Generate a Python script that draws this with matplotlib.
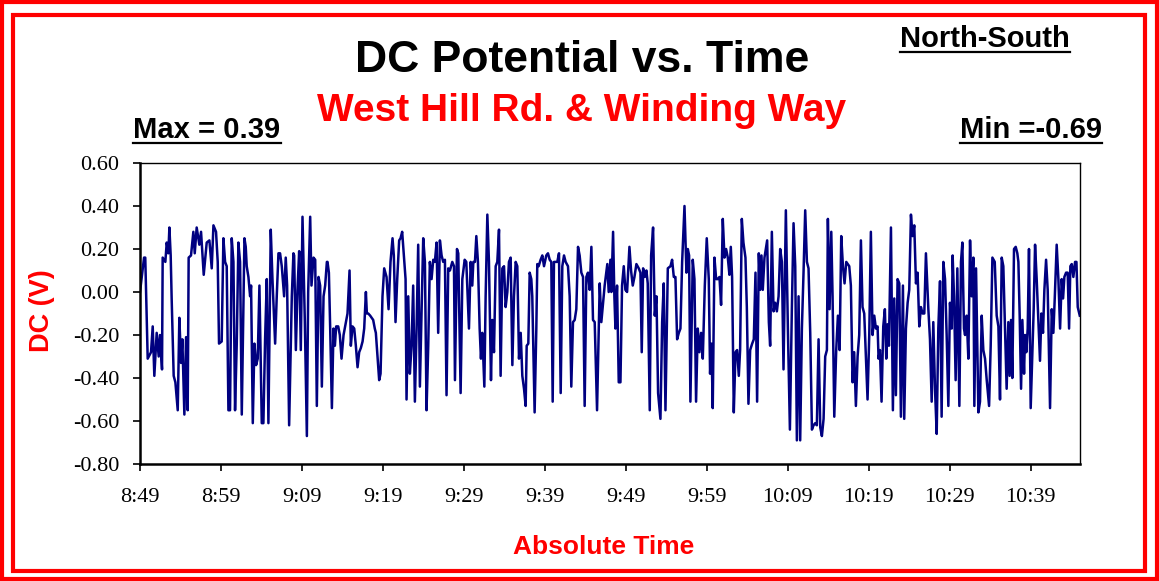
import matplotlib
matplotlib.use("Agg")
from matplotlib import pyplot as plt
from matplotlib.patches import Rectangle
from matplotlib.lines import Line2D

# minutes after 8:49 and DC potential (V)
minutes = [
    0.0, 0.5, 0.65, 0.95, 1.36, 1.57, 1.77, 2.06, 2.31, 2.47, 2.72, 2.80, 3.13, 3.30, 3.5, 3.63,
    3.79, 3.91, 4.16, 4.37, 4.66, 4.86, 5.07, 5.23, 5.48, 5.69, 5.89, 6.01, 6.30, 6.59, 6.76, 7.0,
    7.33, 7.54, 7.87, 8.24, 8.57, 8.86, 9.07,
    9.39, 9.60, 9.76, 10.09, 10.30, 10.51, 10.71, 10.92, 11.12, 11.33, 11.54, 11.74, 11.95, 12.15,
    12.36, 12.57, 12.90, 13.06, 13.18, 13.39, 13.6, 13.72, 13.93, 14.13, 14.34, 14.54, 14.75,
    15.04, 15.24, 15.45, 15.66, 15.86, 16.15, 16.36, 16.69, 16.89, 17.1, 17.3, 17.51, 17.8, 18.0,
    18.17, 18.42, 18.75, 18.95,
    19.04, 19.25, 19.45, 19.66, 19.86, 20.07, 20.36, 20.61, 20.77, 21.02, 21.18, 21.43, 21.64,
    21.84, 22.05, 22.25, 22.46, 22.67, 22.87, 23.08, 23.16, 23.33, 23.49, 23.7, 23.9, 24.07,
    24.23, 24.48, 24.68, 24.89, 25.14, 25.43, 25.63, 25.88, 26.04, 26.25, 26.46, 26.66, 26.87,
    27.07, 27.28, 27.49, 27.69, 27.9, 28.02, 28.19, 28.43,
    28.8, 29.0, 29.13, 29.3, 29.54, 29.71, 29.95, 30.16, 30.45, 30.7, 30.94, 31.19, 31.35, 31.56,
    31.77, 32.01, 32.18, 32.38, 32.59, 32.8, 32.92, 33.13, 33.33, 33.54, 33.74, 33.95, 34.16,
    34.36, 34.57, 34.77, 34.98, 35.19, 35.39, 35.6, 35.8, 36.01, 36.22, 36.42, 36.63, 36.83,
    37.04, 37.25, 37.45, 37.66, 37.86, 38.07, 38.28,
    38.57, 38.78, 38.9, 39.15, 39.31, 39.6, 39.81, 40.1, 40.3, 40.63, 40.84, 41.04, 41.17, 41.37,
    41.54, 41.74, 41.95, 42.11, 42.28, 42.53, 42.69, 42.9, 43.1, 43.35, 43.51, 43.72, 43.93,
    44.13, 44.34, 44.54, 44.75, 44.96, 45.16, 45.37, 45.57, 45.78, 45.99, 46.19, 46.4, 46.6,
    46.81, 47.02, 47.22, 47.43, 47.63, 47.76, 47.96, 48.13,
    48.33, 48.45, 48.74, 48.95, 49.07, 49.24, 49.48, 49.69, 49.9, 50.18, 50.39, 50.6, 50.8,
    50.97, 51.13, 51.34, 51.54, 51.75, 51.96, 52.16, 52.37, 52.57, 52.86, 53.07, 53.27, 53.48,
    53.69, 53.89, 54.1, 54.3, 54.51, 54.72, 54.92, 55.13, 55.33, 55.54, 55.75, 55.95, 56.16,
    56.45, 56.78, 56.98, 57.19, 57.39, 57.72, 57.89, 58.1,
    58.22, 58.43, 58.59, 58.72, 58.92, 59.13, 59.34, 59.54, 59.75, 59.95, 60.16, 60.45, 60.65,
    60.86, 61.07, 61.31, 61.6, 61.81, 61.97, 62.14, 62.34, 62.55, 62.71, 62.96, 63.13, 63.37,
    63.58, 63.79, 63.99, 64.28, 64.49, 64.69, 64.9, 65.19, 65.52, 65.72, 65.93, 66.13, 66.34,
    66.55, 66.75, 66.96, 67.25, 67.49, 67.66, 67.82,
    67.98, 68.27, 68.48, 68.68, 68.89, 69.1, 69.3, 69.51, 69.76, 70.0, 70.25, 70.41, 70.58,
    70.74, 70.95, 71.16, 71.36, 71.57, 71.77, 71.98, 72.19, 72.39, 72.6, 72.8, 72.97, 73.13,
    73.34, 73.55, 73.75, 73.96, 74.12, 74.33, 74.53, 74.78, 74.95, 75.15, 75.36, 75.61, 75.81,
    76.02, 76.22, 76.43, 76.6, 76.76, 76.92, 77.13, 77.46, 77.67, 77.83,
    78.04, 78.25, 78.45, 78.66, 78.87, 79.07, 79.28, 79.48, 79.77, 80.02, 80.27, 80.51, 80.72,
    80.93, 81.13, 81.34, 81.54, 81.75, 81.96, 82.16, 82.37, 82.57, 82.78, 82.99, 83.19, 83.4,
    83.6, 83.81, 84.02, 84.22, 84.43, 84.63, 84.84, 84.96, 85.17, 85.38, 85.54, 85.75, 85.99,
    86.2, 86.41, 86.61, 86.82, 87.02, 87.23,
    87.6, 87.8, 88.01, 88.21, 88.42, 88.63, 88.83, 89.04, 89.24, 89.45, 89.66, 89.86, 90.07,
    90.27, 90.48, 90.69, 90.89, 91.1, 91.22, 91.39, 91.59, 91.8, 92.0, 92.17, 92.33, 92.5,
    92.75, 92.99, 93.16, 93.36, 93.57, 93.78, 93.98, 94.23, 94.39, 94.6, 94.81, 95.01, 95.22,
    95.42, 95.63, 95.84, 96.04, 96.25, 96.45, 96.66, 96.87, 97.07,
    97.37, 97.57, 97.78, 97.98, 98.19, 98.4, 98.6, 98.81, 99.01, 99.22, 99.43, 99.63, 99.84,
    100.04, 100.25, 100.37, 100.54, 100.74, 100.95, 101.2, 101.4, 101.57, 101.77, 101.9, 102.1,
    102.31, 102.52, 102.72, 102.93, 103.05, 103.26, 103.55, 103.75, 103.96, 104.16, 104.37,
    104.58, 104.87, 105.07, 105.28, 105.57, 105.81, 106.02, 106.22, 106.43, 106.63,
    107.04, 107.25, 107.41, 107.58, 107.74, 107.95, 108.16, 108.36, 108.49, 108.65, 108.82,
    108.98, 109.19, 109.31, 109.47, 109.64, 109.8, 110.01, 110.22, 110.38, 110.55, 110.75,
    110.96, 111.16, 111.33, 111.53, 111.7, 111.91, 112.11, 112.4, 112.61, 112.81, 112.98,
    113.22, 113.43, 113.64, 113.84, 114.01, 114.17, 114.38, 114.58, 114.75, 114.91, 115.08,
    115.28, 115.49, 115.66, 115.82, 116.07,
]

dc = [
    0.00, 0.16, 0.16, -0.31, -0.28, -0.16, -0.39, -0.19, -0.30, -0.20, -0.36, 0.16, 0.14, 0.23, 0.18, 0.30,
    0.17, -0.03, -0.39, -0.42, -0.55, -0.12, -0.33, -0.22, -0.57, -0.21, -0.55, 0.16, 0.17, 0.28, 0.18, 0.30,
    0.22, 0.28, 0.08, 0.23, 0.24, 0.11, 0.31,
    0.28, 0.14, -0.24, -0.23, 0.25, 0.14, 0.12, -0.55, -0.55, 0.25, 0.14, -0.55, -0.24, 0.23,
    0.14, -0.57, 0.25, 0.21, 0.12, 0.07, -0.02, 0.03, -0.61, -0.24, -0.34, -0.31, 0.03,
    -0.61, -0.61, -0.22, 0.06, -0.61, 0.29, 0.06, -0.24, -0.02, 0.18, 0.18, 0.12, -0.02, 0.16,
    0.03, -0.62, -0.02, 0.18,
    0.17, -0.27, 0.01, 0.19, -0.27, 0.35, -0.14, -0.67, 0.00, 0.35, 0.03, 0.16, 0.15,
    -0.53, 0.07, 0.03, -0.44, -0.02, 0.03, 0.14, 0.14, 0.09, -0.17, -0.54, -0.17, -0.25,
    -0.16, -0.16, -0.20, -0.31, -0.20, -0.14, -0.10, 0.10, -0.25, -0.16, -0.17, -0.25, -0.35,
    -0.28, -0.26, -0.23, -0.17, 0.00, -0.10, -0.10, -0.11,
    -0.13, -0.17, -0.19, -0.28, -0.41, -0.38, -0.02, 0.11, 0.07, -0.08, 0.14, 0.25, 0.17, -0.14,
    0.06, 0.24, 0.25, 0.28, 0.17, 0.06, -0.50, -0.02, -0.38, -0.25, 0.03, -0.51, -0.17,
    0.22, -0.44, -0.11, 0.25, 0.14, -0.55, -0.25, 0.14, 0.06, 0.15, 0.14, 0.23, -0.19,
    0.24, 0.17, 0.14, 0.15, -0.48, 0.11, 0.10,
    0.14, 0.12, -0.41, 0.20, 0.18, -0.47, 0.06, 0.15, 0.14, -0.17, 0.14, 0.03, 0.14, 0.14,
    0.26, 0.14, -0.17, -0.31, -0.19, -0.44, -0.02, 0.36, 0.14, -0.41, -0.13, -0.28, 0.12,
    0.14, 0.29, -0.39, 0.11, 0.12, -0.07, 0.00, 0.14, 0.16, -0.34, -0.02, 0.14, 0.12,
    -0.31, -0.19, -0.39, -0.45, -0.53, -0.25, -0.24, 0.09,
    0.06, -0.02, -0.56, -0.17, 0.13, 0.12, 0.15, 0.17, 0.12, 0.17, 0.18, 0.15, 0.14,
    -0.51, 0.14, 0.14, 0.14, 0.18, -0.47, 0.12, 0.17, 0.14, 0.12, -0.02, -0.44, -0.14,
    -0.13, -0.08, 0.21, 0.17, 0.09, 0.07, -0.53, 0.07, 0.09, 0.01, 0.21, -0.13, -0.14,
    -0.55, 0.04, -0.14, -0.05, 0.03, 0.13, 0.00, 0.15,
    0.00, 0.28, -0.02, -0.17, 0.03, -0.42, -0.42, 0.03, 0.12, 0.01, 0.00, 0.21, 0.10,
    0.03, 0.07, 0.13, 0.11, 0.09, -0.28, 0.11, 0.07, 0.10, 0.04, -0.55, 0.17, 0.30,
    -0.11, -0.02, -0.47, -0.59, -0.14, 0.04, -0.55, 0.11, 0.12, 0.15, 0.07, 0.07, -0.22,
    -0.19, -0.17, 0.14, 0.40, 0.09, 0.20, 0.17,
    -0.51, 0.15, 0.06, -0.51, -0.17, -0.28, -0.19, -0.31, 0.03, 0.25, 0.06, -0.38, -0.24,
    -0.54, 0.16, 0.06, 0.06, 0.07, -0.06, 0.34, 0.16, 0.20, 0.16, 0.08, 0.21, 0.07,
    -0.56, -0.28, -0.27, -0.39, -0.27, 0.34, 0.23, 0.16, -0.07, -0.52, -0.27, -0.24, -0.22,
    0.09, -0.51, 0.18, 0.01, 0.17, 0.01, 0.16, 0.24, -0.14, -0.25,
    0.28, -0.09, -0.05, -0.09, -0.02, 0.20, 0.14, -0.36, 0.38, -0.17, -0.64, -0.08, 0.32,
    0.12, -0.69, -0.02, -0.69, -0.17, 0.10, 0.38, 0.14, 0.11, -0.19, -0.64, -0.62, -0.61,
    -0.62, -0.22, -0.63, -0.67, -0.59, -0.30, -0.27, 0.34, -0.08, 0.28, -0.02, -0.58, -0.27,
    -0.11, -0.27, 0.26, 0.12, 0.04, 0.14,
    0.12, 0.03, -0.42, -0.28, -0.53, -0.30, -0.20, 0.24, -0.07, -0.10, -0.30, -0.50, -0.20,
    0.28, -0.20, -0.11, -0.17, -0.16, -0.31, -0.27, -0.51, -0.16, -0.08, -0.31, -0.15, -0.25,
    0.30, -0.55, -0.03, -0.48, 0.06, 0.04, -0.58, 0.03, -0.59, -0.17, -0.05, 0.01, 0.36,
    0.26, 0.31, 0.04, 0.09, -0.16, -0.07, -0.10, -0.10, 0.18,
    -0.08, -0.22, -0.51, -0.14, -0.45, -0.66, -0.17, 0.05, -0.58, 0.14, 0.06, -0.20, -0.53,
    -0.05, -0.17, 0.17, -0.02, -0.41, 0.11, -0.53, 0.14, 0.23, -0.17, -0.20, -0.11,
    -0.31, 0.24, -0.02, 0.16, -0.53, 0.11, -0.56, -0.51, -0.11, -0.27, -0.31,
    -0.41, -0.53, -0.25, 0.16, 0.14, -0.11, -0.16, -0.50, 0.16, 0.12,
    -0.45, -0.14, -0.39, -0.13, -0.40, 0.20, 0.21, 0.18, 0.14, -0.11, -0.45,
    -0.13, -0.38, -0.20, -0.28, -0.17, 0.20, -0.54, -0.27, -0.08, 0.22, 0.06,
    -0.13, -0.32, -0.10, -0.19, 0.01, 0.15, 0.01, -0.54, -0.08, -0.19, -0.03,
    0.22, 0.06, -0.17, 0.06, -0.03, 0.07, 0.09, 0.09, -0.17, 0.12, 0.13,
    0.07, 0.14, 0.14, -0.07, -0.11,
]

tick_minutes = [0, 10, 20, 30, 40, 50, 60, 70, 80, 90, 100, 110]
tick_labels = ["8:49", "8:59", "9:09", "9:19", "9:29", "9:39",
               "9:49", "9:59", "10:09", "10:19", "10:29", "10:39"]
y_ticks = [0.6, 0.4, 0.2, 0.0, -0.2, -0.4, -0.6, -0.8]

W, H = 1159, 581
fig = plt.figure(figsize=(W / 100, H / 100), dpi=100)
fig.patch.set_facecolor("white")

# red double frame
fig.patches.append(Rectangle((2 / W, 2 / H), 1 - 4 / W, 1 - 4 / H, transform=fig.transFigure,
                             fill=False, edgecolor="red", linewidth=3))
fig.patches.append(Rectangle((13 / W, 10 / H), 1 - 27 / W, 1 - 25 / H, transform=fig.transFigure,
                             fill=False, edgecolor="red", linewidth=3))

ax = fig.add_axes([140 / W, 1 - 464 / H, 940 / W, 301 / H])
ax.plot(minutes, dc, color="#000080", linewidth=1.8)
ax.set_xlim(0, 116.1)
ax.set_ylim(-0.8, 0.6)
ax.set_xticks(tick_minutes)
ax.set_xticklabels(tick_labels)
ax.set_yticks(y_ticks)
ax.set_yticklabels(["%.2f" % v for v in y_ticks])
for sp in ax.spines.values():
    sp.set_color("black")
    sp.set_linewidth(1.0)
ax.spines["left"].set_linewidth(1.8)
ax.spines["bottom"].set_linewidth(1.8)
ax.tick_params(direction="out", length=5, width=1.2, labelsize=16, pad=12)
ax.tick_params(axis="y", pad=10)
for lab in ax.get_xticklabels() + ax.get_yticklabels():
    lab.set_fontfamily("Liberation Serif")

sans = "Liberation Sans"
fig.text(42 / W, 1 - 311 / H, "DC (V)", rotation=90, ha="center", va="center",
         color="red", fontsize=19.5, fontweight="bold", fontfamily=sans)
fig.text(604 / W, 1 - 547 / H, "Absolute Time", ha="center", va="center",
         color="red", fontsize=19, fontweight="bold", fontfamily=sans)

fig.text(582 / W, 1 - 60 / H, "DC Potential vs. Time", ha="center", va="center",
         fontsize=32, fontweight="bold", fontfamily=sans, color="black")
fig.text(582 / W, 1 - 111 / H, "West Hill Rd. & Winding Way", ha="center", va="center",
         fontsize=28, fontweight="bold", fontfamily=sans, color="red")
under = [
    fig.text(985 / W, 1 - 39 / H, "North-South", ha="center", va="center",
             fontsize=21, fontweight="bold", fontfamily=sans),
    fig.text(207 / W, 1 - 130 / H, "Max = 0.39", ha="center", va="center",
             fontsize=21, fontweight="bold", fontfamily=sans),
    fig.text(1031 / W, 1 - 130 / H, "Min =-0.69", ha="center", va="center",
             fontsize=21, fontweight="bold", fontfamily=sans),
]

# underline the small labels
fig.canvas.draw()
r = fig.canvas.get_renderer()
for t in under:
    bb = t.get_window_extent(r)
    yl = bb.y0 + 1
    fig.add_artist(Line2D([bb.x0 / W, bb.x1 / W], [yl / H, yl / H],
                          transform=fig.transFigure, color="black", linewidth=1.6))

fig.savefig("out.png", dpi=100)
